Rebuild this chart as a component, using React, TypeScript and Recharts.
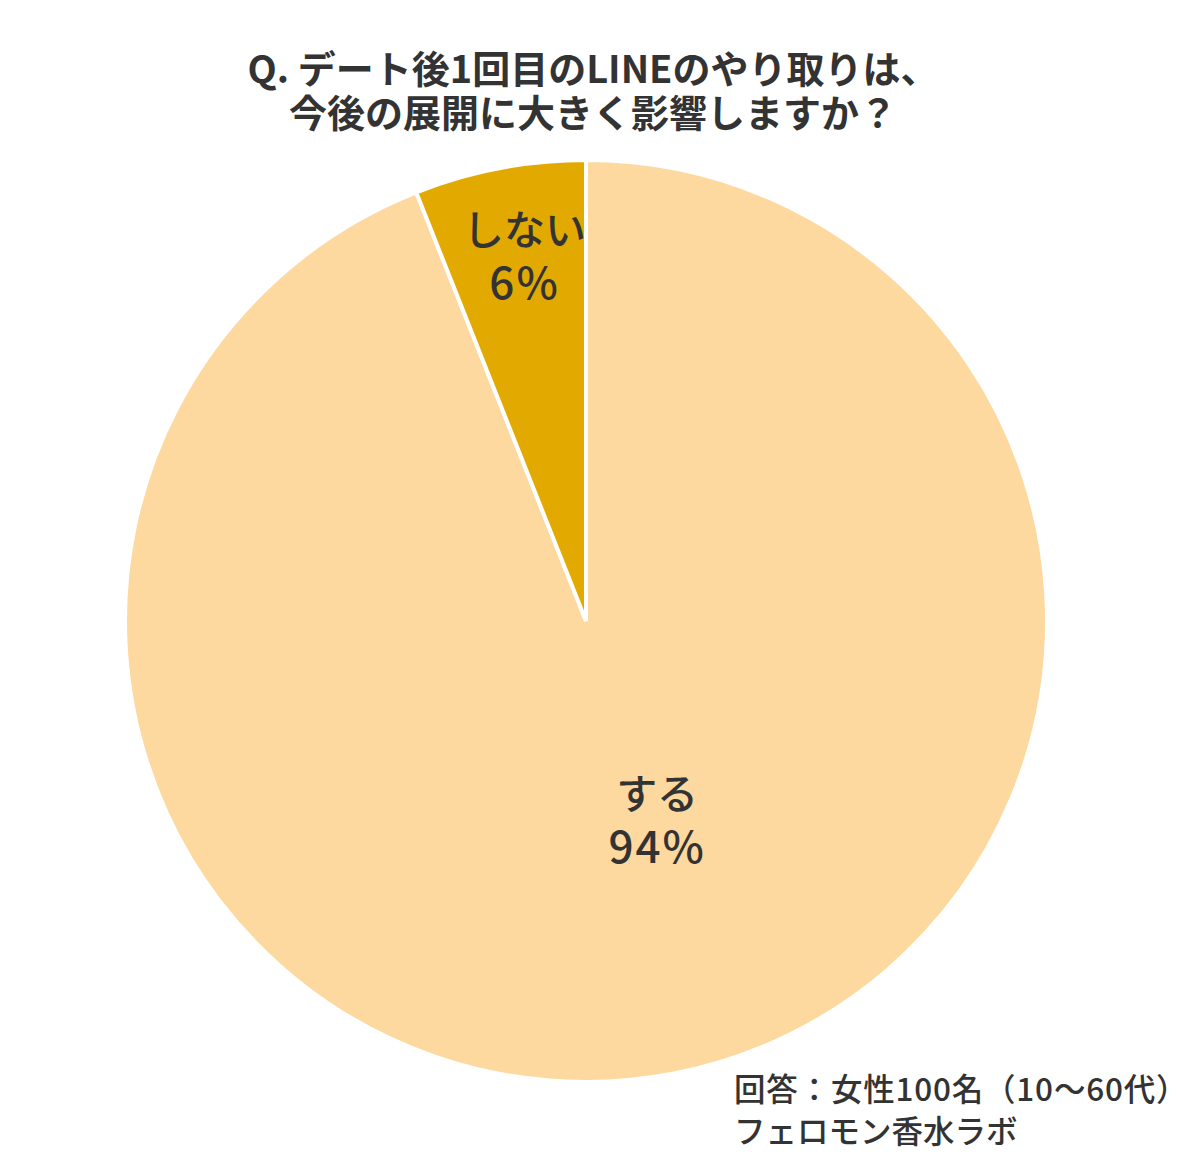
import React from 'react';
import { PieChart, Pie, Cell } from 'recharts';

const titleLines = ['Q. デート後1回目のLINEのやり取りは、', '今後の展開に大きく影響しますか？'];
const sliceNames = ['する', 'しない'];
const sliceValues = [94, 6];
const noteLines = ['回答：女性100名（10〜60代）', 'フェロモン香水ラボ'];

const sliceColors = ['#FDD89F', '#E2AA00'];
// label placement: fraction of radius and angle tweak (deg) per slice
const labelPos: { [k: string]: { r: number; da: number } } = {
  'する': { r: 0.46, da: 8.8 },
  'しない': { r: 0.8, da: -1.2 },
};

const FONT = '"Noto Sans CJK JP", "Noto Sans", sans-serif';
const RAD = Math.PI / 180;

const data = sliceNames.map((name, i) => ({ name, value: sliceValues[i] }));
const total = sliceValues.reduce((a, b) => a + b, 0);

const renderLabel = (props: any) => {
  const { cx, cy, midAngle, outerRadius, name, value } = props;
  const pos = labelPos[name] || { r: 0.6, da: 0 };
  const a = (midAngle + pos.da) * RAD;
  const x = cx + outerRadius * pos.r * Math.cos(a);
  const y = cy - outerRadius * pos.r * Math.sin(a);
  const pct = Math.round((value / total) * 100);
  return (
    <g>
      <text x={x} y={y - 12} textAnchor="middle" fill="#333333" fontFamily={FONT} fontSize={41} fontWeight={500}>
        {name}
      </text>
      <text x={x} y={y + 42} textAnchor="middle" fill="#333333" fontFamily={FONT} fontSize={44} fontWeight={500} letterSpacing={2}>
        {pct}%
      </text>
    </g>
  );
};

const App: React.FC = () => {
  return (
    <div style={{ position: 'absolute', left: 0, top: 0, width: 1200, height: 1170, background: '#fff' }}>
      <PieChart width={1200} height={1170} margin={{ top: 0, right: 0, bottom: 0, left: 0 }} style={{ position: 'absolute', left: 0, top: 0 }}>
        <Pie
          data={data}
          dataKey="value"
          nameKey="name"
          cx={586}
          cy={621}
          outerRadius={461}
          startAngle={90}
          endAngle={-270}
          stroke="#ffffff"
          strokeWidth={4}
          label={renderLabel}
          labelLine={false}
          isAnimationActive={false}
        >
          {data.map((d, i) => (
            <Cell key={d.name} fill={sliceColors[i]} />
          ))}
        </Pie>
      </PieChart>
      <div style={{ position: 'absolute', left: 0, top: 45, width: 1186, textAlign: 'center', fontFamily: FONT, fontWeight: 700, fontSize: 38, lineHeight: '44px', color: '#333333' }}>
        {titleLines.map((t) => (
          <div key={t}>{t}</div>
        ))}
      </div>
      <div style={{ position: 'absolute', left: 734, top: 1066, fontFamily: FONT, fontWeight: 500, fontSize: 31.5, lineHeight: '42px', color: '#333333', whiteSpace: 'nowrap' }}>
        <div style={{ letterSpacing: 0.8 }}>{noteLines[0]}</div>
        <div>{noteLines[1]}</div>
      </div>
    </div>
  );
};

export default App;
